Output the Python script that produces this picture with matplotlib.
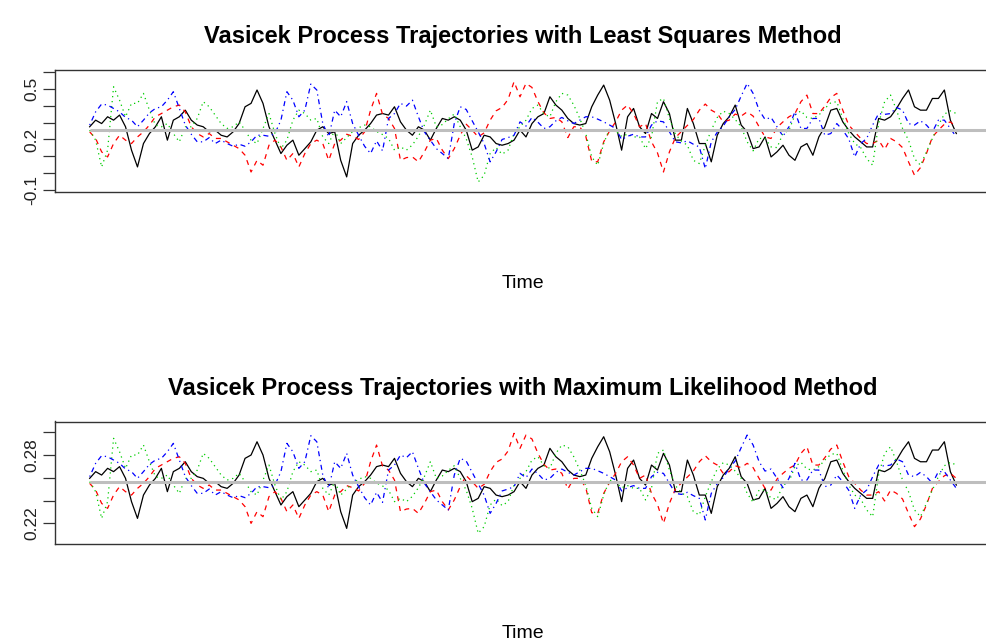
import numpy as np
import matplotlib
matplotlib.use("Agg")
import matplotlib.pyplot as plt

# ---------------- data ----------------
time = np.arange(146)

ls_black = [0.275, 0.314, 0.294, 0.334, 0.314, 0.344, 0.275, 0.137, 0.038, 0.176,
            0.235, 0.275, 0.334, 0.196, 0.314, 0.334, 0.373, 0.314, 0.285, 0.275,
            0.245, 0.255, 0.225, 0.215, 0.245, 0.294, 0.393, 0.413, 0.492, 0.413,
            0.275, 0.196, 0.117, 0.166, 0.196, 0.107, 0.146, 0.186, 0.255, 0.275,
            0.235,
            0.245, 0.077, -0.021, 0.176, 0.225, 0.255, 0.294, 0.344, 0.353, 0.344,
            0.393, 0.304, 0.255, 0.225, 0.275, 0.255, 0.196, 0.265, 0.324, 0.314,
            0.334, 0.314, 0.255, 0.137, 0.156, 0.225, 0.215, 0.176, 0.166, 0.176,
            0.196, 0.255, 0.215, 0.294, 0.334, 0.353, 0.452, 0.403, 0.373, 0.324,
            0.294, 0.285, 0.294, 0.393, 0.462, 0.521, 0.432, 0.294, 0.137, 0.334,
            0.383, 0.275, 0.235,
            0.353, 0.324, 0.423, 0.353, 0.196, 0.196, 0.383, 0.294, 0.176, 0.176,
            0.068, 0.225, 0.294, 0.334, 0.403, 0.285, 0.245, 0.146, 0.156, 0.215,
            0.097, 0.127, 0.166, 0.107, 0.077, 0.156, 0.176, 0.107, 0.215, 0.275,
            0.373, 0.383, 0.304, 0.255, 0.215, 0.186, 0.156, 0.156, 0.324, 0.314,
            0.334, 0.383, 0.442, 0.492, 0.393, 0.373, 0.373, 0.442, 0.442, 0.492,
            0.314, 0.235]

ls_red = [0.245, 0.206, 0.127, 0.097, 0.176, 0.225, 0.196, 0.176, 0.215, 0.245,
          0.285, 0.334, 0.353, 0.373, 0.393, 0.403, 0.363, 0.275, 0.235, 0.215,
          0.235, 0.206, 0.206, 0.186, 0.166, 0.146, 0.107, 0.008, 0.077, 0.048,
          0.166, 0.196, 0.156, 0.077, 0.117, 0.038, 0.117, 0.176, 0.196, 0.176,
          0.077,
          0.176, 0.196, 0.231, 0.219, 0.200, 0.245, 0.373, 0.472, 0.348, 0.324,
          0.265, 0.077, 0.093, 0.097, 0.068, 0.127, 0.196, 0.206, 0.137, 0.087,
          0.146, 0.225, 0.290, 0.255, 0.215, 0.239, 0.314, 0.369, 0.389, 0.436,
          0.541, 0.452, 0.531, 0.507, 0.423, 0.357, 0.324, 0.330, 0.304, 0.211,
          0.275, 0.275, 0.219, 0.071, 0.068, 0.186, 0.251, 0.304, 0.373, 0.403,
          0.353, 0.275, 0.294,
          0.186, 0.121, 0.008, 0.127, 0.211, 0.247, 0.283, 0.318, 0.373, 0.409,
          0.373, 0.353, 0.304, 0.314, 0.350, 0.338, 0.363, 0.338, 0.275, 0.215,
          0.206, 0.271, 0.304, 0.334, 0.353, 0.423, 0.462, 0.353, 0.353, 0.397,
          0.448, 0.472, 0.373, 0.285, 0.245, 0.206, 0.176, 0.176, 0.196, 0.141,
          0.206, 0.186, 0.152, 0.068, -0.011, 0.034, 0.117, 0.215, 0.255, 0.290,
          0.304, 0.275]

ls_green = [0.255, 0.196, 0.038, 0.137, 0.511, 0.432, 0.334, 0.413, 0.413, 0.472,
            0.373, 0.285, 0.275, 0.294, 0.235, 0.186, 0.275, 0.275, 0.324, 0.423,
            0.393, 0.344, 0.294, 0.265, 0.275, 0.304, 0.255, 0.196, 0.176, 0.265,
            0.353, 0.235, 0.146, 0.196, 0.314, 0.373, 0.353, 0.314, 0.324, 0.215,
            0.176,
            0.255, 0.176, 0.211, 0.247, 0.269, 0.285, 0.275, 0.247, 0.229, 0.206,
            0.137, 0.156, 0.137, 0.168, 0.219, 0.285, 0.373, 0.275, 0.288, 0.322,
            0.350, 0.275, 0.204, 0.097, -0.051, -0.011, 0.117, 0.152, 0.113, 0.137,
            0.235, 0.275, 0.314, 0.383, 0.403, 0.350, 0.334, 0.423, 0.472, 0.462,
            0.403, 0.324, 0.235, 0.097, 0.048, 0.176, 0.265, 0.251, 0.219, 0.231,
            0.215, 0.215, 0.146,
            0.215, 0.423, 0.442, 0.324, 0.231, 0.190, 0.166, 0.077, 0.058, 0.166,
            0.255, 0.330, 0.367, 0.353, 0.318, 0.275, 0.186, 0.133, 0.206, 0.206,
            0.156, 0.152, 0.235, 0.255, 0.344, 0.369, 0.330, 0.324, 0.344, 0.383,
            0.417, 0.423, 0.324, 0.235, 0.176, 0.152, 0.087, 0.048, 0.294, 0.423,
            0.462, 0.373, 0.265, 0.196, 0.087, 0.048, 0.127, 0.206, 0.285, 0.350,
            0.369, 0.353]

ls_blue = [0.285, 0.363, 0.409, 0.403, 0.383, 0.363, 0.330, 0.314, 0.275, 0.314,
           0.357, 0.383, 0.393, 0.432, 0.482, 0.383, 0.285, 0.231, 0.186, 0.186,
           0.211, 0.176, 0.196, 0.176, 0.160, 0.172, 0.160, 0.186, 0.225, 0.225,
           0.219, 0.235, 0.314, 0.482, 0.432, 0.334, 0.373, 0.527, 0.492, 0.294,
           0.215,
           0.373, 0.334, 0.423, 0.294, 0.225, 0.160, 0.117, 0.192, 0.133, 0.324,
           0.353, 0.413, 0.397, 0.432, 0.334, 0.245, 0.196, 0.146, 0.117, 0.087,
           0.294, 0.393, 0.377, 0.310, 0.245, 0.176, 0.068, 0.127, 0.200, 0.211,
           0.225, 0.304, 0.279, 0.330, 0.302, 0.265, 0.275, 0.310, 0.330, 0.310,
           0.294, 0.314, 0.334, 0.334, 0.320, 0.304, 0.285, 0.265, 0.200, 0.219,
           0.231, 0.215, 0.215,
           0.285, 0.310, 0.304, 0.245, 0.186, 0.180, 0.192, 0.172, 0.156, 0.028,
           0.186, 0.243, 0.279, 0.334, 0.377, 0.456, 0.531, 0.472, 0.373, 0.318,
           0.330, 0.275, 0.219, 0.275, 0.363, 0.265, 0.265, 0.324, 0.324, 0.225,
           0.235, 0.294, 0.255, 0.204, 0.097, 0.176, 0.206, 0.285, 0.353, 0.348,
           0.353, 0.389, 0.373, 0.294, 0.285, 0.310, 0.285, 0.245, 0.314, 0.314,
           0.265, 0.215]

ml_black = [0.2595, 0.2654, 0.2624, 0.2683, 0.2654, 0.2698, 0.2595, 0.2390, 0.2243, 0.2448,
            0.2536, 0.2595, 0.2683, 0.2478, 0.2654, 0.2683, 0.2741, 0.2654, 0.2610, 0.2595,
            0.2551, 0.2566, 0.2522, 0.2507, 0.2551, 0.2624, 0.2771, 0.2800, 0.2917, 0.2800,
            0.2595, 0.2478, 0.2361, 0.2434, 0.2478, 0.2346, 0.2405, 0.2463, 0.2566, 0.2595,
            0.2536,
            0.2551, 0.2302, 0.2155, 0.2448, 0.2522, 0.2566, 0.2624, 0.2698, 0.2712, 0.2698,
            0.2771, 0.2639, 0.2566, 0.2522, 0.2595, 0.2566, 0.2478, 0.2580, 0.2668, 0.2654,
            0.2683, 0.2654, 0.2566, 0.2390, 0.2419, 0.2522, 0.2507, 0.2448, 0.2434, 0.2448,
            0.2478, 0.2566, 0.2507, 0.2624, 0.2683, 0.2712, 0.2859, 0.2785, 0.2741, 0.2668,
            0.2624, 0.2610, 0.2624, 0.2771, 0.2873, 0.2961, 0.2829, 0.2624, 0.2390, 0.2683,
            0.2756, 0.2595, 0.2536,
            0.2712, 0.2668, 0.2815, 0.2712, 0.2478, 0.2478, 0.2756, 0.2624, 0.2448, 0.2448,
            0.2287, 0.2522, 0.2624, 0.2683, 0.2785, 0.2610, 0.2551, 0.2405, 0.2419, 0.2507,
            0.2331, 0.2375, 0.2434, 0.2346, 0.2302, 0.2419, 0.2448, 0.2346, 0.2507, 0.2595,
            0.2741, 0.2756, 0.2639, 0.2566, 0.2507, 0.2463, 0.2419, 0.2419, 0.2668, 0.2654,
            0.2683, 0.2756, 0.2844, 0.2917, 0.2771, 0.2741, 0.2741, 0.2844, 0.2844, 0.2917,
            0.2654, 0.2536]

ml_red = [0.2551, 0.2492, 0.2375, 0.2331, 0.2448, 0.2522, 0.2478, 0.2448, 0.2507, 0.2551,
          0.2610, 0.2683, 0.2712, 0.2741, 0.2771, 0.2785, 0.2727, 0.2595, 0.2536, 0.2507,
          0.2536, 0.2492, 0.2492, 0.2463, 0.2434, 0.2405, 0.2346, 0.2199, 0.2302, 0.2258,
          0.2434, 0.2478, 0.2419, 0.2302, 0.2361, 0.2243, 0.2361, 0.2448, 0.2478, 0.2448,
          0.2302,
          0.2448, 0.2478, 0.2531, 0.2513, 0.2484, 0.2551, 0.2741, 0.2888, 0.2703, 0.2668,
          0.2580, 0.2302, 0.2325, 0.2331, 0.2287, 0.2375, 0.2478, 0.2492, 0.2390, 0.2317,
          0.2405, 0.2522, 0.2618, 0.2566, 0.2507, 0.2542, 0.2654, 0.2736, 0.2765, 0.2835,
          0.2991, 0.2859, 0.2976, 0.2941, 0.2815, 0.2718, 0.2668, 0.2677, 0.2639, 0.2501,
          0.2595, 0.2595, 0.2513, 0.2293, 0.2287, 0.2463, 0.2560, 0.2639, 0.2741, 0.2785,
          0.2712, 0.2595, 0.2624,
          0.2463, 0.2366, 0.2199, 0.2375, 0.2501, 0.2554, 0.2607, 0.2659, 0.2741, 0.2794,
          0.2741, 0.2712, 0.2639, 0.2654, 0.2706, 0.2689, 0.2727, 0.2689, 0.2595, 0.2507,
          0.2492, 0.2589, 0.2639, 0.2683, 0.2712, 0.2815, 0.2873, 0.2712, 0.2712, 0.2777,
          0.2853, 0.2888, 0.2741, 0.2610, 0.2551, 0.2492, 0.2448, 0.2448, 0.2478, 0.2396,
          0.2492, 0.2463, 0.2413, 0.2287, 0.2170, 0.2238, 0.2361, 0.2507, 0.2566, 0.2618,
          0.2639, 0.2595]

ml_green = [0.2566, 0.2478, 0.2243, 0.2390, 0.2947, 0.2829, 0.2683, 0.2800, 0.2800, 0.2888,
            0.2741, 0.2610, 0.2595, 0.2624, 0.2536, 0.2463, 0.2595, 0.2595, 0.2668, 0.2815,
            0.2771, 0.2698, 0.2624, 0.2580, 0.2595, 0.2639, 0.2566, 0.2478, 0.2448, 0.2580,
            0.2712, 0.2536, 0.2405, 0.2478, 0.2654, 0.2741, 0.2712, 0.2654, 0.2668, 0.2507,
            0.2448,
            0.2566, 0.2448, 0.2501, 0.2554, 0.2586, 0.2610, 0.2595, 0.2554, 0.2528, 0.2492,
            0.2390, 0.2419, 0.2390, 0.2437, 0.2513, 0.2610, 0.2741, 0.2595, 0.2616, 0.2665,
            0.2706, 0.2595, 0.2490, 0.2331, 0.2112, 0.2170, 0.2361, 0.2413, 0.2355, 0.2390,
            0.2536, 0.2595, 0.2654, 0.2756, 0.2785, 0.2706, 0.2683, 0.2815, 0.2888, 0.2873,
            0.2785, 0.2668, 0.2536, 0.2331, 0.2258, 0.2448, 0.2580, 0.2560, 0.2513, 0.2531,
            0.2507, 0.2507, 0.2405,
            0.2507, 0.2815, 0.2844, 0.2668, 0.2531, 0.2469, 0.2434, 0.2302, 0.2273, 0.2434,
            0.2566, 0.2677, 0.2733, 0.2712, 0.2659, 0.2595, 0.2463, 0.2384, 0.2492, 0.2492,
            0.2419, 0.2413, 0.2536, 0.2566, 0.2698, 0.2736, 0.2677, 0.2668, 0.2698, 0.2756,
            0.2806, 0.2815, 0.2668, 0.2536, 0.2448, 0.2413, 0.2317, 0.2258, 0.2624, 0.2815,
            0.2873, 0.2741, 0.2580, 0.2478, 0.2317, 0.2258, 0.2375, 0.2492, 0.2610, 0.2706,
            0.2736, 0.2712]

ml_blue = [0.2610, 0.2727, 0.2794, 0.2785, 0.2756, 0.2727, 0.2677, 0.2654, 0.2595, 0.2654,
           0.2718, 0.2756, 0.2771, 0.2829, 0.2903, 0.2756, 0.2610, 0.2531, 0.2463, 0.2463,
           0.2501, 0.2448, 0.2478, 0.2448, 0.2425, 0.2443, 0.2425, 0.2463, 0.2522, 0.2522,
           0.2513, 0.2536, 0.2654, 0.2903, 0.2829, 0.2683, 0.2741, 0.2970, 0.2917, 0.2624,
           0.2507,
           0.2741, 0.2683, 0.2815, 0.2624, 0.2522, 0.2425, 0.2361, 0.2472, 0.2384, 0.2668,
           0.2712, 0.2800, 0.2777, 0.2829, 0.2683, 0.2551, 0.2478, 0.2405, 0.2361, 0.2317,
           0.2624, 0.2771, 0.2747, 0.2648, 0.2551, 0.2448, 0.2287, 0.2375, 0.2484, 0.2501,
           0.2522, 0.2639, 0.2601, 0.2677, 0.2636, 0.2580, 0.2595, 0.2648, 0.2677, 0.2648,
           0.2624, 0.2654, 0.2683, 0.2683, 0.2662, 0.2639, 0.2610, 0.2580, 0.2484, 0.2513,
           0.2531, 0.2507, 0.2507,
           0.2610, 0.2648, 0.2639, 0.2551, 0.2463, 0.2454, 0.2472, 0.2443, 0.2419, 0.2229,
           0.2463, 0.2548, 0.2601, 0.2683, 0.2747, 0.2865, 0.2976, 0.2888, 0.2741, 0.2659,
           0.2677, 0.2595, 0.2513, 0.2595, 0.2727, 0.2580, 0.2580, 0.2668, 0.2668, 0.2522,
           0.2536, 0.2624, 0.2566, 0.2490, 0.2331, 0.2448, 0.2492, 0.2610, 0.2712, 0.2703,
           0.2712, 0.2765, 0.2741, 0.2624, 0.2610, 0.2648, 0.2610, 0.2551, 0.2654, 0.2654,
           0.2580, 0.2507]

theta_ls = 0.255
theta_ml = 0.2566

ls_ticks = [-0.1, 0.0, 0.1, 0.2, 0.3, 0.4, 0.5, 0.6]
ls_ticklabels = ["-0.1", "", "", "0.2", "", "", "0.5", ""]
ml_ticks = [0.22, 0.24, 0.26, 0.28, 0.30]
ml_ticklabels = ["0.22", "", "", "0.28", ""]

title_ls = "Vasicek Process Trajectories with Least Squares Method"
title_ml = "Vasicek Process Trajectories with Maximum Likelihood Method"
xlabel = "Time"

# ---------------- drawing ----------------
plt.rcParams['font.family'] = ['Liberation Sans', 'DejaVu Sans']
W, H = 986.0, 643.0
fig = plt.figure(figsize=(W / 100, H / 100), dpi=100)
fig.patch.set_facecolor("white")


def px_rect(l, t, r, b):
    return [l / W, 1 - b / H, (r - l) / W, (b - t) / H]


styles = [
    dict(color="black", ls="-"),
    dict(color="#FF0000", ls=(0, (4, 4))),
    dict(color="#00CD00", ls=(0, (1, 3))),
    dict(color="#0000FF", ls=(0, (1, 3, 4, 3))),
]


def panel(rect, series, theta, ylim, ticks, ticklabels, title, title_y, xlab_y):
    ax = fig.add_axes(rect)
    for s, st in zip(series, styles):
        ax.plot(time, s, lw=0.9, **st)
    pad = 0.04 * (time[-1] - time[0])
    ax.hlines(theta, time[0], time[-1] + 10 * pad, color="#BEBEBE", lw=2.2, zorder=5)
    ax.set_xlim(time[0] - pad, time[-1] + pad)
    ax.set_ylim(*ylim)
    ax.set_xticks([])
    ax.set_yticks(ticks)
    ax.set_yticklabels(ticklabels, rotation=90, va="center", fontsize=12.5, color="#222222")
    ax.tick_params(axis="y", length=8.5, width=0.9, pad=3, color="#333333")
    for sp in ax.spines.values():
        sp.set_color("#333333")
        sp.set_linewidth(1.0)
    cx = (rect[0] + rect[2] / 2)
    fig.text(cx, 1 - title_y / H, title, ha="center", va="center",
             fontsize=17, fontweight="bold", color="black")
    fig.text(cx, 1 - xlab_y / H, xlabel, ha="center", va="center",
             fontsize=14, color="black")
    return ax


panel(px_rect(55, 70, 991, 192), [ls_black, ls_red, ls_green, ls_blue], theta_ls,
      (-0.110, 0.610), ls_ticks, ls_ticklabels, title_ls, 37, 283)
panel(px_rect(55, 421.5, 991, 543.5), [ml_black, ml_red, ml_green, ml_blue], theta_ml,
      (0.2022, 0.3095), ml_ticks, ml_ticklabels, title_ml, 388, 633)

fig.savefig("out.png", dpi=100, facecolor="white")
